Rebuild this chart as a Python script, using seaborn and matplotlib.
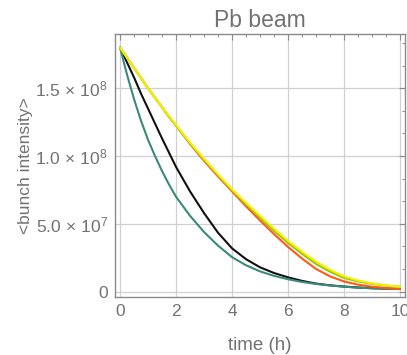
import numpy as np
import pandas as pd
import matplotlib
matplotlib.use("Agg")
import matplotlib.pyplot as plt
import seaborn as sns
from matplotlib.ticker import MultipleLocator, FixedLocator

# ---- data ----
time_h = [0, 0.25, 0.5, 0.75, 1, 1.25, 1.5, 1.75, 2, 2.5, 3, 3.5, 4, 4.5, 5,
          5.5, 6, 6.5, 7, 7.5, 8, 8.5, 9, 9.5, 10]

teal = [1.80e8, 1.60e8, 1.42e8, 1.26e8, 1.12e8, 1.00e8, 8.9e7, 7.9e7, 7.0e7, 5.6e7, 4.4e7,
        3.4e7, 2.55e7, 1.95e7, 1.5e7, 1.17e7, 9.2e6, 7.2e6, 5.7e6, 4.6e6, 3.7e6, 3.0e6,
        2.5e6, 2.2e6, 2.0e6]
black = [1.80e8, 1.69e8, 1.58e8, 1.46e8, 1.35e8, 1.24e8, 1.13e8, 1.025e8, 9.2e7, 7.4e7, 5.8e7,
         4.35e7, 3.2e7, 2.4e7, 1.8e7, 1.38e7, 1.06e7, 8.0e6, 6.0e6, 4.7e6, 3.8e6, 3.1e6,
         2.6e6, 2.2e6, 2.0e6]
orange = [1.80e8, 1.725e8, 1.65e8, 1.575e8, 1.50e8, 1.43e8, 1.36e8, 1.29e8, 1.225e8, 1.09e8,
          9.65e7, 8.5e7, 7.4e7, 6.3e7, 5.25e7, 4.25e7, 3.3e7, 2.45e7, 1.68e7, 1.13e7, 7.6e6,
          5.2e6, 3.7e6, 2.7e6, 2.0e6]
green = [1.80e8, 1.725e8, 1.65e8, 1.575e8, 1.50e8, 1.43e8, 1.36e8, 1.29e8, 1.225e8, 1.095e8,
         9.75e7, 8.6e7, 7.5e7, 6.45e7, 5.45e7, 4.5e7, 3.6e7, 2.8e7, 2.05e7, 1.48e7, 1.02e7,
         7.6e6, 5.8e6, 4.5e6, 3.6e6]
yellow = [1.80e8, 1.725e8, 1.65e8, 1.575e8, 1.50e8, 1.43e8, 1.36e8, 1.295e8, 1.23e8, 1.10e8,
          9.8e7, 8.65e7, 7.55e7, 6.55e7, 5.6e7, 4.65e7, 3.75e7, 2.95e7, 2.22e7, 1.62e7, 1.13e7,
          8.3e6, 6.2e6, 4.7e6, 3.7e6]

# drawing order: black first, then teal, orange, green, yellow
series_names = ["black", "teal", "orange", "green", "yellow"]
series_values = [black, teal, orange, green, yellow]
series_colors = ["#111111", "#3a8a7a", "#ff5a14", "#9cc000", "#f2f200"]

x_ticks = [0, 2, 4, 6, 8, 10]
y_ticks = [0, 5e7, 1e8, 1.5e8]
y_tick_labels = ["0", r"$5.0\,\times\,10^{7}$", r"$1.0\,\times\,10^{8}$", r"$1.5\,\times\,10^{8}$"]

title = "Pb beam"
x_label = "time (h)"
y_label = "<bunch intensity>"

# ---- style ----
sns.set_style("white")
plt.rcParams["font.family"] = ["Liberation Sans", "DejaVu Sans"]
plt.rcParams["mathtext.fontset"] = "custom"
plt.rcParams["mathtext.rm"] = "Liberation Sans"
plt.rcParams["mathtext.it"] = "Liberation Sans:italic"
plt.rcParams["mathtext.bf"] = "Liberation Sans:bold"

text_gray = "#727272"
frame_gray = "#8a8a8a"

fig = plt.figure(figsize=(4.07, 3.55), dpi=100)
ax = fig.add_axes([115 / 407, 1 - 297 / 355, 290 / 407, (297 - 34) / 355])

frames = []
for name, vals in zip(series_names, series_values):
    frames.append(pd.DataFrame({"t": time_h, "v": vals, "s": name}))
df = pd.concat(frames, ignore_index=True)

for name, color in zip(series_names, series_colors):
    sns.lineplot(data=df[df["s"] == name], x="t", y="v", color=color, lw=1.5,
                 ax=ax, legend=False)

ax.set_xlim(-0.18, 10.18)
ax.set_ylim(-3.9e6, 1.9e8)

ax.xaxis.set_major_locator(FixedLocator(x_ticks))
ax.xaxis.set_minor_locator(MultipleLocator(0.5))
ax.yaxis.set_major_locator(FixedLocator(y_ticks))
ax.yaxis.set_minor_locator(MultipleLocator(5e7 / 3))
ax.set_yticklabels(y_tick_labels)
ax.set_xticklabels([str(v) for v in x_ticks])

ax.grid(True, which="major", color="#d0d0d0", lw=0.9)
ax.set_axisbelow(True)

ax.tick_params(which="both", direction="in", top=True, right=True,
               colors=frame_gray, labelcolor=text_gray, labelsize=12.5)
ax.tick_params(which="major", length=4, width=0.8, pad=5)
ax.tick_params(which="minor", length=2.5, width=0.7)
for sp in ax.spines.values():
    sp.set_color(frame_gray)
    sp.set_linewidth(1.0)

ax.set_title(title, color=text_gray, fontsize=16.5, pad=5)
ax.set_xlabel(x_label, color=text_gray, fontsize=13.5, labelpad=13)
ax.set_ylabel(y_label, color=text_gray, fontsize=12.5, labelpad=2)

fig.savefig("out.png", dpi=100)
